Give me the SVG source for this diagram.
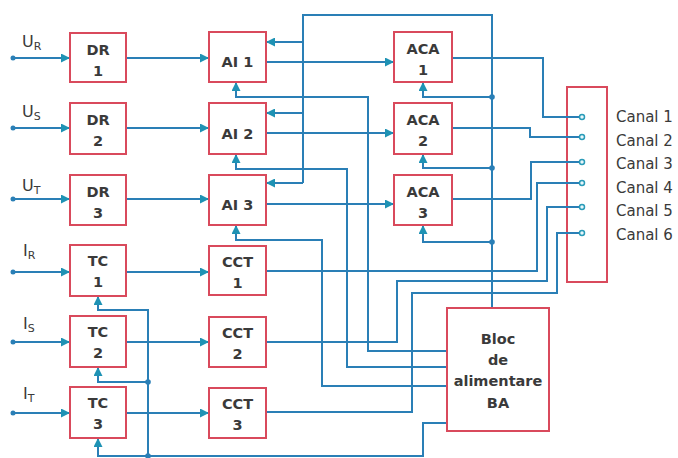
<svg xmlns="http://www.w3.org/2000/svg" width="678" height="458" viewBox="0 0 678 458">
<style>
.box{fill:#fff;stroke:#d94a5c;stroke-width:2}
.bt{font-family:"DejaVu Sans","Liberation Sans",sans-serif;font-weight:bold;font-size:14.5px;fill:#3a3a3a;text-anchor:middle}
.lab{font-family:"DejaVu Sans","Liberation Sans",sans-serif;font-size:15px;fill:#3a3a3a}
.in{font-family:"DejaVu Sans","Liberation Sans",sans-serif;font-size:16px;fill:#3a3a3a}
.sub{font-size:11px}
.w{fill:none;stroke:#2a7fb6;stroke-width:2}
.a{fill:none;stroke:#2a7fb6;stroke-width:2;marker-end:url(#ah)}
.dot{fill:#2a7fb6}
.term{fill:#e8f6fa;stroke:#2a9bb8;stroke-width:1.5}
</style>
<defs>
<marker id="ah" viewBox="0 0 10 10" refX="10" refY="5" markerWidth="10" markerHeight="9" markerUnits="userSpaceOnUse" orient="auto">
<path d="M0,0 L10,5 L0,10 z" fill="#1e92b4"/>
</marker>
</defs>
<rect width="678" height="458" fill="#fff"/>

<g id="canal">
<rect class="box" x="567" y="87" width="40" height="195"/>
<text class="lab" x="616" y="121.5">Canal 1</text>
<text class="lab" x="616" y="145.5">Canal 2</text>
<text class="lab" x="616" y="168.5">Canal 3</text>
<text class="lab" x="616" y="192.5">Canal 4</text>
<text class="lab" x="616" y="216">Canal 5</text>
<text class="lab" x="616" y="240">Canal 6</text>
</g>

<g id="connectors">
<path class="a" d="M13,58 H70"/>
<path class="a" d="M13,128 H70"/>
<path class="a" d="M13,199 H70"/>
<path class="a" d="M13,272 H70"/>
<path class="a" d="M13,342 H70"/>
<path class="a" d="M13,413 H70"/>
<circle class="dot" cx="13" cy="58" r="2.5"/>
<circle class="dot" cx="13" cy="128" r="2.5"/>
<circle class="dot" cx="13" cy="199" r="2.5"/>
<circle class="dot" cx="13" cy="272" r="2.5"/>
<circle class="dot" cx="13" cy="342" r="2.5"/>
<circle class="dot" cx="13" cy="413" r="2.5"/>
<path class="a" d="M126,58 H209"/>
<path class="a" d="M126,128 H209"/>
<path class="a" d="M126,199 H209"/>
<path class="a" d="M126,272 H209"/>
<path class="a" d="M126,342 H209"/>
<path class="a" d="M126,413 H209"/>
<path class="a" d="M266,62 H394"/>
<path class="a" d="M266,133 H394"/>
<path class="a" d="M266,204 H394"/>
<path class="w" d="M492,308 V15 H303 V183"/>
<path class="a" d="M303,42 H266"/>
<path class="a" d="M303,113 H266"/>
<path class="a" d="M303,183 H266"/>
<path class="a" d="M492,97 H423 V82"/>
<path class="a" d="M492,168 H423 V154"/>
<path class="a" d="M492,242 H423 V225"/>
<circle class="dot" cx="492" cy="97" r="2.8"/>
<circle class="dot" cx="492" cy="168" r="2.8"/>
<circle class="dot" cx="492" cy="242" r="2.8"/>
<path class="a" d="M447,351 H368 V97 H236 V82"/>
<path class="a" d="M447,367 H347 V169 H236 V154"/>
<path class="a" d="M447,386 H322 V240 H236 V225"/>
<path class="a" d="M447,423 H423 V456 H98 V438"/>
<path class="a" d="M148,456 V310 H98 V296"/>
<path class="a" d="M148,382 H98 V367"/>
<circle class="dot" cx="148" cy="382" r="2.8"/>
<circle class="dot" cx="148" cy="456" r="2.8"/>
<path class="w" d="M452,58 H543 V117 H580"/>
<path class="w" d="M452,128 H530 V137 H580"/>
<path class="w" d="M452,199 H531 V162 H580"/>
<path class="w" d="M266,271 H537 V183 H580"/>
<path class="w" d="M266,342 H397 V281 H547 V207 H580"/>
<path class="w" d="M266,412 H412 V293 H557 V233 H580"/>
<circle class="term" cx="582" cy="117" r="2.5"/>
<circle class="term" cx="582" cy="137" r="2.5"/>
<circle class="term" cx="582" cy="162" r="2.5"/>
<circle class="term" cx="582" cy="183" r="2.5"/>
<circle class="term" cx="582" cy="207" r="2.5"/>
<circle class="term" cx="582" cy="233" r="2.5"/>
</g>

<g id="labels">
<text class="in" x="22" y="47">U<tspan class="sub" dy="3">R</tspan></text>
<text class="in" x="22" y="117">U<tspan class="sub" dy="3">S</tspan></text>
<text class="in" x="22" y="191">U<tspan class="sub" dy="3">T</tspan></text>
<text class="in" x="23" y="256">I<tspan class="sub" dy="3">R</tspan></text>
<text class="in" x="23" y="329">I<tspan class="sub" dy="3">S</tspan></text>
<text class="in" x="23" y="399">I<tspan class="sub" dy="3">T</tspan></text>
</g>

<g id="DR1"><rect class="box" x="70" y="33" width="56" height="49"/><text class="bt" x="98" y="54.5">DR</text><text class="bt" x="98" y="75.5">1</text></g>
<g id="DR2"><rect class="box" x="70" y="103" width="56" height="51"/><text class="bt" x="98" y="124.5">DR</text><text class="bt" x="98" y="145.5">2</text></g>
<g id="DR3"><rect class="box" x="70" y="175" width="56" height="50"/><text class="bt" x="98" y="196.5">DR</text><text class="bt" x="98" y="217.5">3</text></g>
<g id="TC1"><rect class="box" x="70" y="245" width="56" height="51"/><text class="bt" x="98" y="265.5">TC</text><text class="bt" x="98" y="286.5">1</text></g>
<g id="TC2"><rect class="box" x="70" y="316" width="56" height="51"/><text class="bt" x="98" y="336.5">TC</text><text class="bt" x="98" y="357.5">2</text></g>
<g id="TC3"><rect class="box" x="70" y="387" width="56" height="51"/><text class="bt" x="98" y="407.5">TC</text><text class="bt" x="98" y="428.5">3</text></g>

<g id="AI1"><rect class="box" x="209" y="32" width="57" height="50"/><text class="bt" x="237.5" y="67">AI 1</text></g>
<g id="AI2"><rect class="box" x="209" y="103" width="57" height="51"/><text class="bt" x="237.5" y="138.5">AI 2</text></g>
<g id="AI3"><rect class="box" x="209" y="175" width="57" height="50"/><text class="bt" x="237.5" y="210">AI 3</text></g>
<g id="CCT1"><rect class="box" x="209" y="246" width="57" height="49"/><text class="bt" x="237.5" y="266.5">CCT</text><text class="bt" x="237.5" y="287.5">1</text></g>
<g id="CCT2"><rect class="box" x="209" y="317" width="57" height="50"/><text class="bt" x="237.5" y="337.5">CCT</text><text class="bt" x="237.5" y="358.5">2</text></g>
<g id="CCT3"><rect class="box" x="209" y="388" width="57" height="50"/><text class="bt" x="237.5" y="408.5">CCT</text><text class="bt" x="237.5" y="429.5">3</text></g>

<g id="ACA1"><rect class="box" x="394" y="32" width="58" height="50"/><text class="bt" x="423" y="54">ACA</text><text class="bt" x="423" y="75">1</text></g>
<g id="ACA2"><rect class="box" x="394" y="103" width="58" height="51"/><text class="bt" x="423" y="125">ACA</text><text class="bt" x="423" y="146">2</text></g>
<g id="ACA3"><rect class="box" x="394" y="175" width="58" height="50"/><text class="bt" x="423" y="197">ACA</text><text class="bt" x="423" y="218">3</text></g>

<g id="BA"><rect class="box" x="447" y="308" width="102" height="123"/>
<text class="bt" x="498" y="344">Bloc</text>
<text class="bt" x="498" y="365">de</text>
<text class="bt" x="498" y="386">alimentare</text>
<text class="bt" x="498" y="408">BA</text>
</g>
</svg>
